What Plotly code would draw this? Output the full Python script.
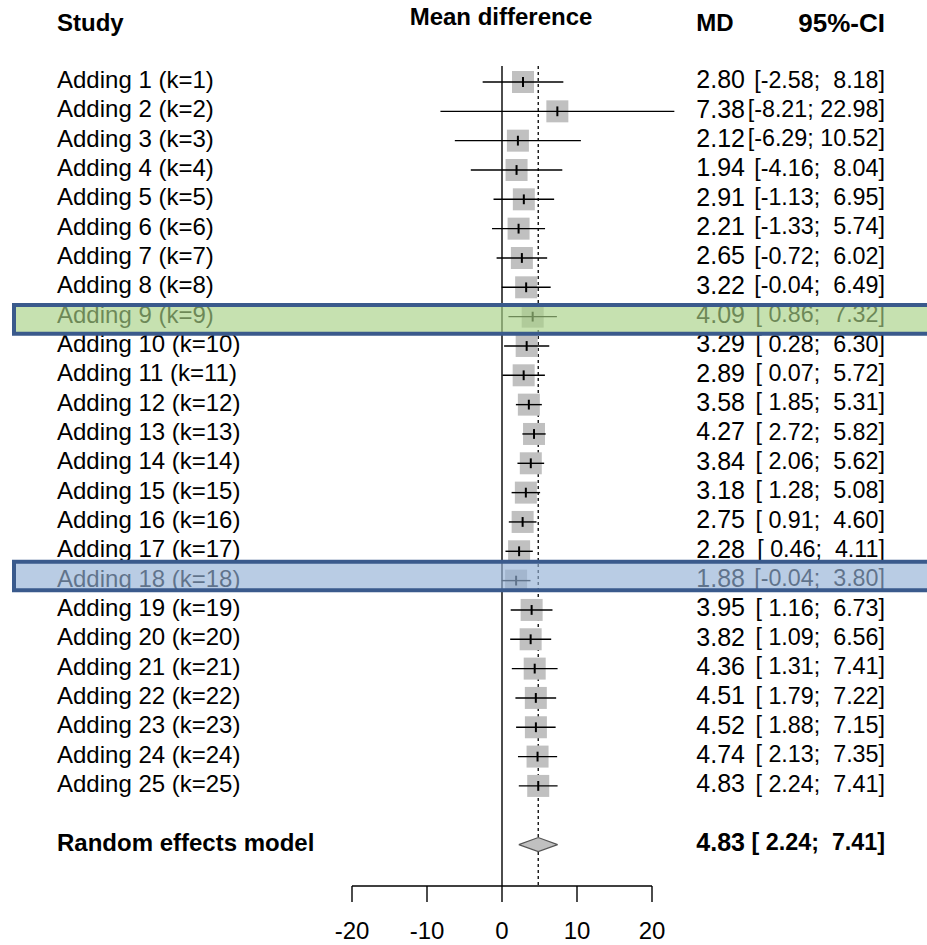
import plotly.graph_objects as go

# ---------------- data ----------------
studies = [f"Adding {i} (k={i})" for i in range(1, 26)]
md = [2.80, 7.38, 2.12, 1.94, 2.91, 2.21, 2.65, 3.22, 4.09, 3.29, 2.89, 3.58, 4.27,
      3.84, 3.18, 2.75, 2.28, 1.88, 3.95, 3.82, 4.36, 4.51, 4.52, 4.74, 4.83]
ci_lo = [-2.58, -8.21, -6.29, -4.16, -1.13, -1.33, -0.72, -0.04, 0.86, 0.28, 0.07, 1.85, 2.72,
         2.06, 1.28, 0.91, 0.46, -0.04, 1.16, 1.09, 1.31, 1.79, 1.88, 2.13, 2.24]
ci_hi = [8.18, 22.98, 10.52, 8.04, 6.95, 5.74, 6.02, 6.49, 7.32, 6.30, 5.72, 5.31, 5.82,
         5.62, 5.08, 4.60, 4.11, 3.80, 6.73, 6.56, 7.41, 7.22, 7.15, 7.35, 7.41]
re_label = "Random effects model"
re_md, re_lo, re_hi = 4.83, 2.24, 7.41
tick_vals = [-20, -10, 0, 10, 20]
tick_text = ["-20", "-10", "0", "10", "20"]
highlight_rows = [9, 18]

# ---------------- layout helpers (pixel geometry) ----------------
W, H = 927, 945
ROW1_PX, ROW_STEP = 82.0, 29.33
X0_PX, PX_PER_UNIT = 502.0, 7.5
AXIS_PX = 886.0


def row_of(px):
    return (px - ROW1_PX) / ROW_STEP + 1


n = len(md)
rows = list(range(1, n + 1))
re_row = n + 2

FONT = "Liberation Sans, Arial, sans-serif"
FS = 24
CI_FS = 23.3

fig = go.Figure()

# squares
fig.add_trace(go.Scatter(x=md, y=rows, mode="markers",
                         marker=dict(symbol="square", size=22, color="#C0C0C0",
                                     line=dict(width=0)),
                         hoverinfo="skip", showlegend=False))
# CI lines
cx, cy = [], []
for lo, hi, r in zip(ci_lo, ci_hi, rows):
    cx += [lo, hi, None]
    cy += [r, r, None]
fig.add_trace(go.Scatter(x=cx, y=cy, mode="lines", line=dict(color="black", width=1.4),
                         hoverinfo="skip", showlegend=False))
# estimate ticks
fig.add_trace(go.Scatter(x=md, y=rows, mode="markers",
                         marker=dict(symbol="line-ns", size=7,
                                     line=dict(width=2, color="black")),
                         hoverinfo="skip", showlegend=False))
# diamond
dh = 0.24
fig.add_trace(go.Scatter(x=[re_lo, re_md, re_hi, re_md, re_lo],
                         y=[re_row, re_row - dh, re_row, re_row + dh, re_row],
                         mode="lines", fill="toself", fillcolor="#C0C0C0",
                         line=dict(color="#555555", width=1.2),
                         hoverinfo="skip", showlegend=False))

# x-axis tick labels (data coordinates)
tick_row = row_of(933)
fig.add_trace(go.Scatter(x=tick_vals, y=[tick_row] * len(tick_vals), mode="text",
                         text=tick_text, textposition="middle center", cliponaxis=False,
                         textfont=dict(family=FONT, size=FS, color="black"),
                         hoverinfo="skip", showlegend=False))


# text columns on a pixel-unit x axis (x3)
def text_trace(xpx, ys, texts, pos, bold=False, size=FS):
    fig.add_trace(go.Scatter(x=[xpx] * len(ys), y=ys, xaxis="x3", yaxis="y",
                             mode="text", text=[f"<b>{t}</b>" if bold else t for t in texts],
                             textposition=pos, cliponaxis=False,
                             textfont=dict(family=FONT, size=size, color="black"),
                             hoverinfo="skip", showlegend=False))


md_txt = [f"{v:.2f}" for v in md]
ci_txt = [f"[{lo:5.2f}; {hi:5.2f}]" for lo, hi in zip(ci_lo, ci_hi)]

LEFT, MD_R, CI_R = 57, 745, 885
text_trace(LEFT, rows, studies, "middle right")
text_trace(MD_R, rows, md_txt, "middle left", size=25)
text_trace(CI_R, rows, ci_txt, "middle left", size=CI_FS)

text_trace(LEFT, [re_row], [re_label], "middle right", bold=True)
text_trace(MD_R, [re_row], [f"{re_md:.2f}"], "middle left", bold=True, size=25)
text_trace(CI_R, [re_row], [f"[{re_lo:5.2f}; {re_hi:5.2f}]"], "middle left", bold=True,
           size=CI_FS)

# headers
text_trace(LEFT, [row_of(25)], ["Study"], "middle right", bold=True)
text_trace(501, [row_of(19)], ["Mean difference"], "middle center", bold=True)
text_trace(715, [row_of(25)], ["MD"], "middle center", bold=True)
text_trace(CI_R, [row_of(25)], ["95%-CI"], "middle left", bold=True, size=26)

shapes = []
top_row = row_of(66)
axis_row = row_of(AXIS_PX)
tick_end = row_of(AXIS_PX + 16)
# zero line
shapes.append(dict(type="line", xref="x", yref="y", x0=0, x1=0, y0=top_row, y1=axis_row,
                   line=dict(color="black", width=1.4), layer="below"))
# dashed RE line
shapes.append(dict(type="line", xref="x", yref="y", x0=re_md, x1=re_md, y0=top_row, y1=axis_row,
                   line=dict(color="black", width=1.3, dash="dot"), layer="below"))
# x axis line and ticks
shapes.append(dict(type="line", xref="x", yref="y", x0=tick_vals[0], x1=tick_vals[-1],
                   y0=axis_row, y1=axis_row, line=dict(color="black", width=1.4)))
for tv in tick_vals:
    shapes.append(dict(type="line", xref="x", yref="y", x0=tv, x1=tv,
                       y0=axis_row, y1=tick_end, line=dict(color="black", width=1.4)))

# highlight boxes
hl_style = {9: ("rgba(168,209,134,0.65)", -0.40, 0.58),
            18: ("rgba(147,177,214,0.65)", -0.64, 0.33)}
for r in highlight_rows:
    fill, a, b = hl_style[r]
    shapes.append(dict(type="rect", xref="paper", yref="y", x0=14 / W, x1=1.02,
                       y0=r + a, y1=r + b, fillcolor=fill,
                       line=dict(color="#3A5A8C", width=4), layer="above"))

x_lo = -X0_PX / PX_PER_UNIT
x_hi = (W - X0_PX) / PX_PER_UNIT
y_top = row_of(0)
y_bot = row_of(H)

fig.update_layout(
    width=W, height=H, margin=dict(l=0, r=0, t=0, b=0, pad=0, autoexpand=False),
    paper_bgcolor="white", plot_bgcolor="rgba(0,0,0,0)",
    showlegend=False, shapes=shapes,
    xaxis=dict(domain=[0, 1], range=[x_lo, x_hi], visible=False, fixedrange=True),
    xaxis3=dict(overlaying="x", range=[0, W], visible=False, fixedrange=True),
    yaxis=dict(domain=[0, 1], range=[y_bot, y_top], visible=False, fixedrange=True),
    font=dict(family=FONT, size=FS, color="black"),
)

fig.write_html("out.html", config={"displayModeBar": False})
